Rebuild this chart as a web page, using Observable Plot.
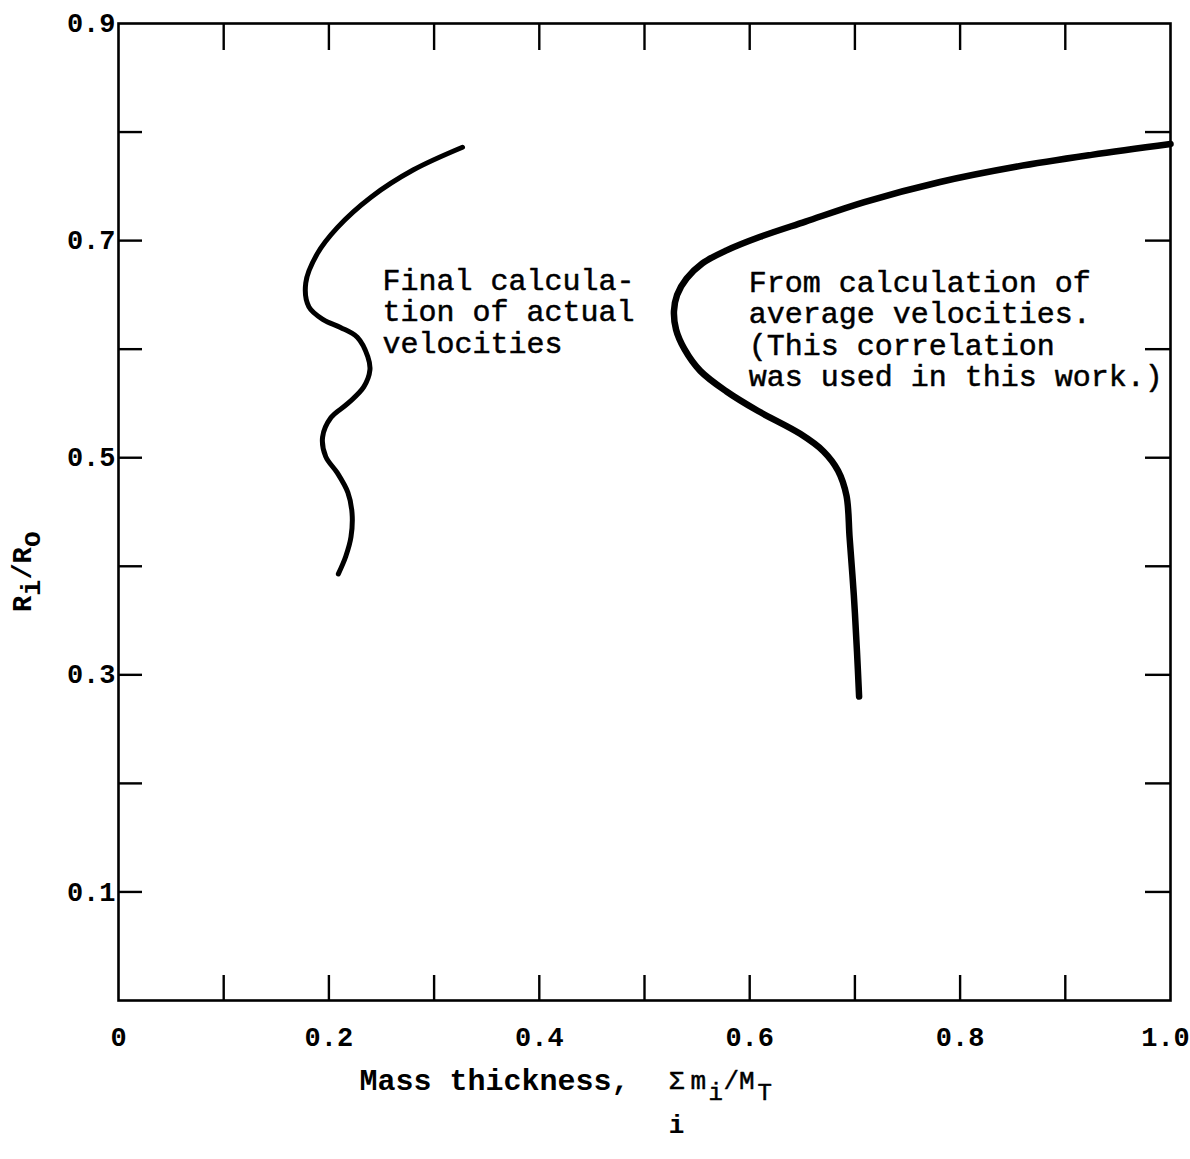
<!DOCTYPE html>
<html>
<head>
<meta charset="utf-8">
<script src="https://cdn.jsdelivr.net/npm/d3@7"></script>
<script src="https://cdn.jsdelivr.net/npm/@observablehq/plot@0.6"></script>
<style>
  html, body { margin: 0; padding: 0; background: #fff; }
  #chart svg { display: block; }
</style>
</head>
<body>
<div id="chart"></div>
<script>
// Final calculation of actual velocities: mass thickness vs. R_i/R_o
const actualMass = [0.327, 0.280, 0.240, 0.208, 0.189, 0.178, 0.181, 0.195, 0.211, 0.227, 0.237, 0.239, 0.233, 0.218, 0.202, 0.194, 0.197, 0.208, 0.218, 0.222, 0.221, 0.216, 0.209];
const actualRatio = [0.786, 0.765, 0.740, 0.712, 0.688, 0.661, 0.639, 0.627, 0.620, 0.611, 0.593, 0.581, 0.565, 0.550, 0.537, 0.519, 0.501, 0.486, 0.468, 0.449, 0.427, 0.409, 0.393];

// Calculation of average velocities (the correlation used in this work)
const averageMass = [1.000, 0.925, 0.853, 0.781, 0.709, 0.653, 0.610, 0.578, 0.555, 0.540, 0.531, 0.528, 0.530, 0.538, 0.553, 0.578, 0.608, 0.648, 0.670, 0.684, 0.692, 0.695, 0.699, 0.702, 0.704];
const averageRatio = [0.789, 0.779, 0.768, 0.754, 0.7355, 0.7175, 0.7035, 0.691, 0.679, 0.665, 0.650, 0.635, 0.618, 0.600, 0.580, 0.561, 0.543, 0.522, 0.506, 0.488, 0.465, 0.426, 0.373, 0.321, 0.280];

// Axis ticks and labels
const xTicks = [0.1, 0.2, 0.3, 0.4, 0.5, 0.6, 0.7, 0.8, 0.9];
const yTicks = [0.1, 0.2, 0.3, 0.4, 0.5, 0.6, 0.7, 0.8];
const xLabelValues = [0, 0.2, 0.4, 0.6, 0.8, 1.0];
const xLabelText = ["0", "0.2", "0.4", "0.6", "0.8", "1.0"];
const yLabelValues = [0.1, 0.3, 0.5, 0.7, 0.9];
const yLabelText = ["0.1", "0.3", "0.5", "0.7", "0.9"];

const actual = actualMass.map((m, i) => ({mass: m, ratio: actualRatio[i]}));
const average = averageMass.map((m, i) => ({mass: m, ratio: averageRatio[i]}));
const xLabels = xLabelValues.map((v, i) => ({value: v, text: xLabelText[i]}));

const annotActual = "Final calcula-\ntion of actual\nvelocities";
const annotAverage = "From calculation of\naverage velocities.\n(This correlation\nwas used in this work.)";

const mono = "'Liberation Mono', 'DejaVu Sans Mono', monospace";

const W = 1190, H = 1159;
const mL = 118, mR = 20, mT = 23, mB = 159;
const frameW = W - mL - mR;   // 1052
const frameH = H - mT - mB;   // 977

const labelStyle = {frameAnchor: "bottom", dy: 37, lineAnchor: "middle", fontSize: 27, fontWeight: "bold", fill: "#000"};
const titleBase = {frameAnchor: "bottom-left", textAnchor: "start", lineAnchor: "middle", fontWeight: "normal", fill: "#000", stroke: "#000", strokeWidth: 0.5};

const chart = Plot.plot({
  width: W,
  height: H,
  marginLeft: mL,
  marginRight: mR,
  marginTop: mT,
  marginBottom: mB,
  x: {domain: [0, 1], axis: null},
  y: {
    domain: [0, 0.9], axis: "left", ticks: yLabelValues, tickSize: 0, tickPadding: 3,
    tickFormat: (d) => yLabelText[yLabelValues.indexOf(d)], label: null
  },
  style: {fontFamily: mono, fontSize: "27px", fontWeight: "bold", background: "#fff", color: "#000"},
  marks: [
    Plot.frame({stroke: "#000", strokeWidth: 2.6}),
    // inward ticks on all four sides
    Plot.ruleX(xTicks, {x: (d) => d, insetBottom: frameH - 27, stroke: "#000", strokeWidth: 2.4}),
    Plot.ruleX(xTicks, {x: (d) => d, insetTop: frameH - 25, stroke: "#000", strokeWidth: 2.4}),
    Plot.ruleY(yTicks, {y: (d) => d, insetRight: frameW - 24, stroke: "#000", strokeWidth: 2.4}),
    Plot.ruleY(yTicks, {y: (d) => d, insetLeft: frameW - 25, stroke: "#000", strokeWidth: 2.4}),
    // x tick labels (the last one is nudged inside the page edge)
    Plot.text(xLabels.slice(0, -1), {x: "value", text: "text", ...labelStyle}),
    Plot.text(xLabels.slice(-1), {x: "value", text: "text", ...labelStyle, dx: -5}),
    // curves
    Plot.line(actual, {x: "mass", y: "ratio", curve: "catmull-rom", stroke: "#000", strokeWidth: 5, strokeLinecap: "round"}),
    Plot.line(average, {x: "mass", y: "ratio", curve: "catmull-rom", stroke: "#000", strokeWidth: 6.5, strokeLinecap: "round"}),
    // annotations
    Plot.text([annotActual], {x: 0.251, y: 0.6347, text: (d) => d, textAnchor: "start", lineAnchor: "middle", lineHeight: 1.04, fontSize: 30, fontWeight: "normal", fill: "#000", stroke: "#000", strokeWidth: 0.5}),
    Plot.text([annotAverage], {x: 0.599, y: 0.6185, text: (d) => d, textAnchor: "start", lineAnchor: "middle", lineHeight: 1.04, fontSize: 30, fontWeight: "normal", fill: "#000", stroke: "#000", strokeWidth: 0.5}),
    // y-axis title: R_i/R_o
    Plot.text(["R /R "], {frameAnchor: "left", dx: -96, dy: 59.5, rotate: -90, textAnchor: "middle", lineAnchor: "middle", fontSize: 27, fontWeight: "bold", fill: "#000"}),
    Plot.text([" i  o"], {frameAnchor: "left", dx: -87, dy: 59.5, rotate: -90, textAnchor: "middle", lineAnchor: "middle", fontSize: 27, fontWeight: "bold", fill: "#000"}),
    // x-axis title: Mass thickness, Σ_i m_i/M_T
    Plot.text(["Mass thickness,"], {frameAnchor: "bottom-left", dx: 241, dy: 80, textAnchor: "start", lineAnchor: "middle", fontSize: 30, fontWeight: "bold", fill: "#000"}),
    Plot.text(["Σ"], {...titleBase, textAnchor: "middle", dx: 558, dy: 80, fontSize: 26}),
    Plot.text(["i"], {...titleBase, textAnchor: "middle", dx: 558, dy: 124, fontSize: 26, fontWeight: "bold", stroke: null}),
    Plot.text(["m"], {...titleBase, dx: 572, dy: 80, fontSize: 26}),
    Plot.text(["i"], {...titleBase, dx: 590, dy: 92, fontSize: 24}),
    Plot.text(["/M"], {...titleBase, dx: 605, dy: 80, fontSize: 26}),
    Plot.text(["T"], {...titleBase, dx: 639, dy: 92, fontSize: 24})
  ]
});

document.getElementById("chart").appendChild(chart);
</script>
</body>
</html>
